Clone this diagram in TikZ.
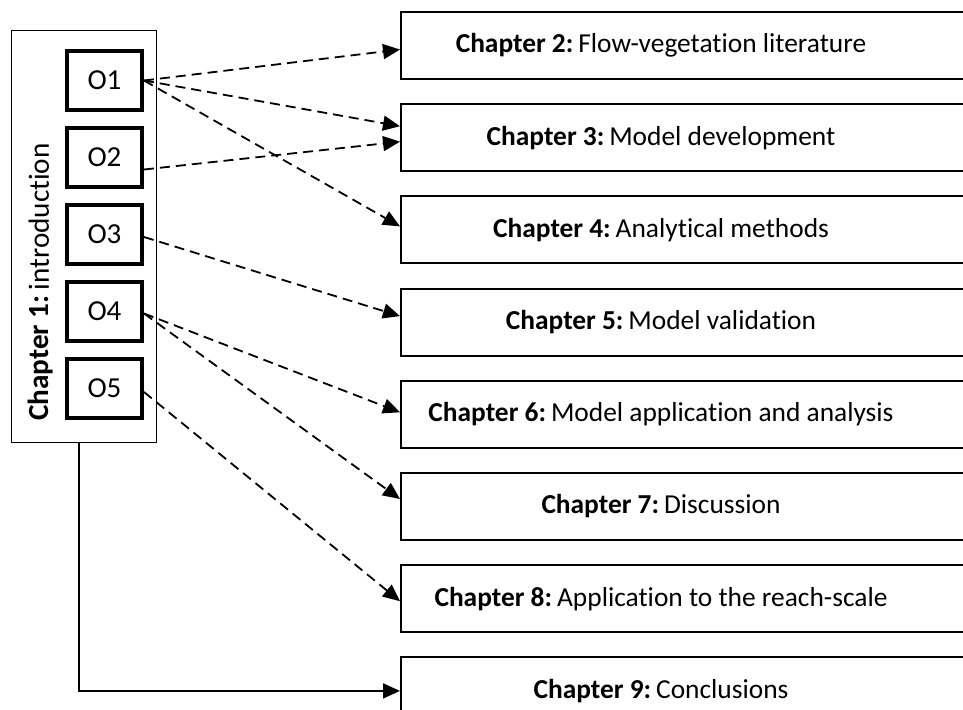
\documentclass[tikz,border=0pt]{standalone}
\usepackage{fontspec}
\setmainfont[Ligatures=NoCommon, Contextuals=NoAlternate]{Carlito}
\usetikzlibrary{positioning,arrows.meta}

\tikzset{
    objbox/.style={draw, line width=2pt, minimum width=37.5pt, minimum height=29.5pt, inner sep=0pt,
        font=\fontsize{14.5}{17}\selectfont},
    chbox/.style={draw, line width=1pt, minimum height=33.5pt, inner sep=0pt, anchor=west},
    dasharrow/.style={line width=0.9pt, dash pattern=on 5pt off 3pt,
        -{Triangle[length=8.5pt,width=7.5pt]}},
    solidarrow/.style={line width=0.9pt, -{Triangle[length=8.5pt,width=7.5pt]}}
}
\newcommand{\chaptext}[2]{\makebox[260pt][c]{\textbf{Chapter #1:}\hspace{0.18em}#2}\hspace*{40pt}}

\begin{document}
\begin{tikzpicture}[x=0.5pt, y=-0.5pt, font=\fontsize{13.7}{16}\selectfont,
    node distance=7pt]
    \useasboundingbox (0,0) rectangle (963,709);
    \clip (0,0) rectangle (963,709);

    \node[draw, line width=0.75pt, minimum width=72.5pt, minimum height=206pt, inner sep=0pt]
        (ch1) at (84,236.5) {};
    \node[rotate=90, font=\fontsize{14.6}{17}\selectfont] (ch1label) at (41,282)
        {\textbf{Chapter 1:}\hspace{0.18em}introduction};

    \node[objbox] (o1) at (104.5,80.5) {O1};
    \node[objbox, below=of o1] (o2) {O2};
    \node[objbox, below=of o2] (o3) {O3};
    \node[objbox, below=of o3] (o4) {O4};
    \node[objbox, below=of o4] (o5) {O5};

    \node[chbox] (c2) at (400,45.5) {\chaptext{2}{Flow-vegetation literature}};
    \node[chbox, below=11.6pt of c2.south west, anchor=north west] (c3) {\chaptext{3}{Model development}};
    \node[chbox, below=11.6pt of c3.south west, anchor=north west] (c4) {\chaptext{4}{Analytical methods}};
    \node[chbox, below=11.6pt of c4.south west, anchor=north west] (c5) {\chaptext{5}{Model validation}};
    \node[chbox, below=11.6pt of c5.south west, anchor=north west] (c6) {\chaptext{6}{Model application and analysis}};
    \node[chbox, below=11.6pt of c6.south west, anchor=north west] (c7) {\chaptext{7}{Discussion}};
    \node[chbox, below=11.6pt of c7.south west, anchor=north west] (c8) {\chaptext{8}{Application to the reach-scale}};
    \node[chbox, below=11.6pt of c8.south west, anchor=north west] (c9) {\chaptext{9}{Conclusions}};

    \draw[dasharrow] (o1.east) -- ([yshift=-2pt]c2.west);
    \draw[dasharrow] (o1.east) -- ([yshift=5.75pt]c3.west);
    \draw[dasharrow] (o1.east) -- ([yshift=1.75pt]c4.west);
    \draw[dasharrow] ([yshift=-6pt]o2.east) -- ([yshift=-2pt]c3.west);
    \draw[dasharrow] ([yshift=-1.25pt]o3.east) -- ([yshift=3pt]c5.west);
    \draw[dasharrow] ([yshift=-1pt]o4.east) -- ([yshift=1pt]c6.west);
    \draw[dasharrow] ([yshift=-1pt]o4.east) -- ([yshift=3.75pt]c7.west);
    \draw[dasharrow] ([yshift=-1.75pt]o5.east) -- ([yshift=-1.25pt]c8.west);
    \draw[solidarrow] ([xshift=-2.5pt]ch1.south) |- (c9.west);
\end{tikzpicture}
\end{document}
